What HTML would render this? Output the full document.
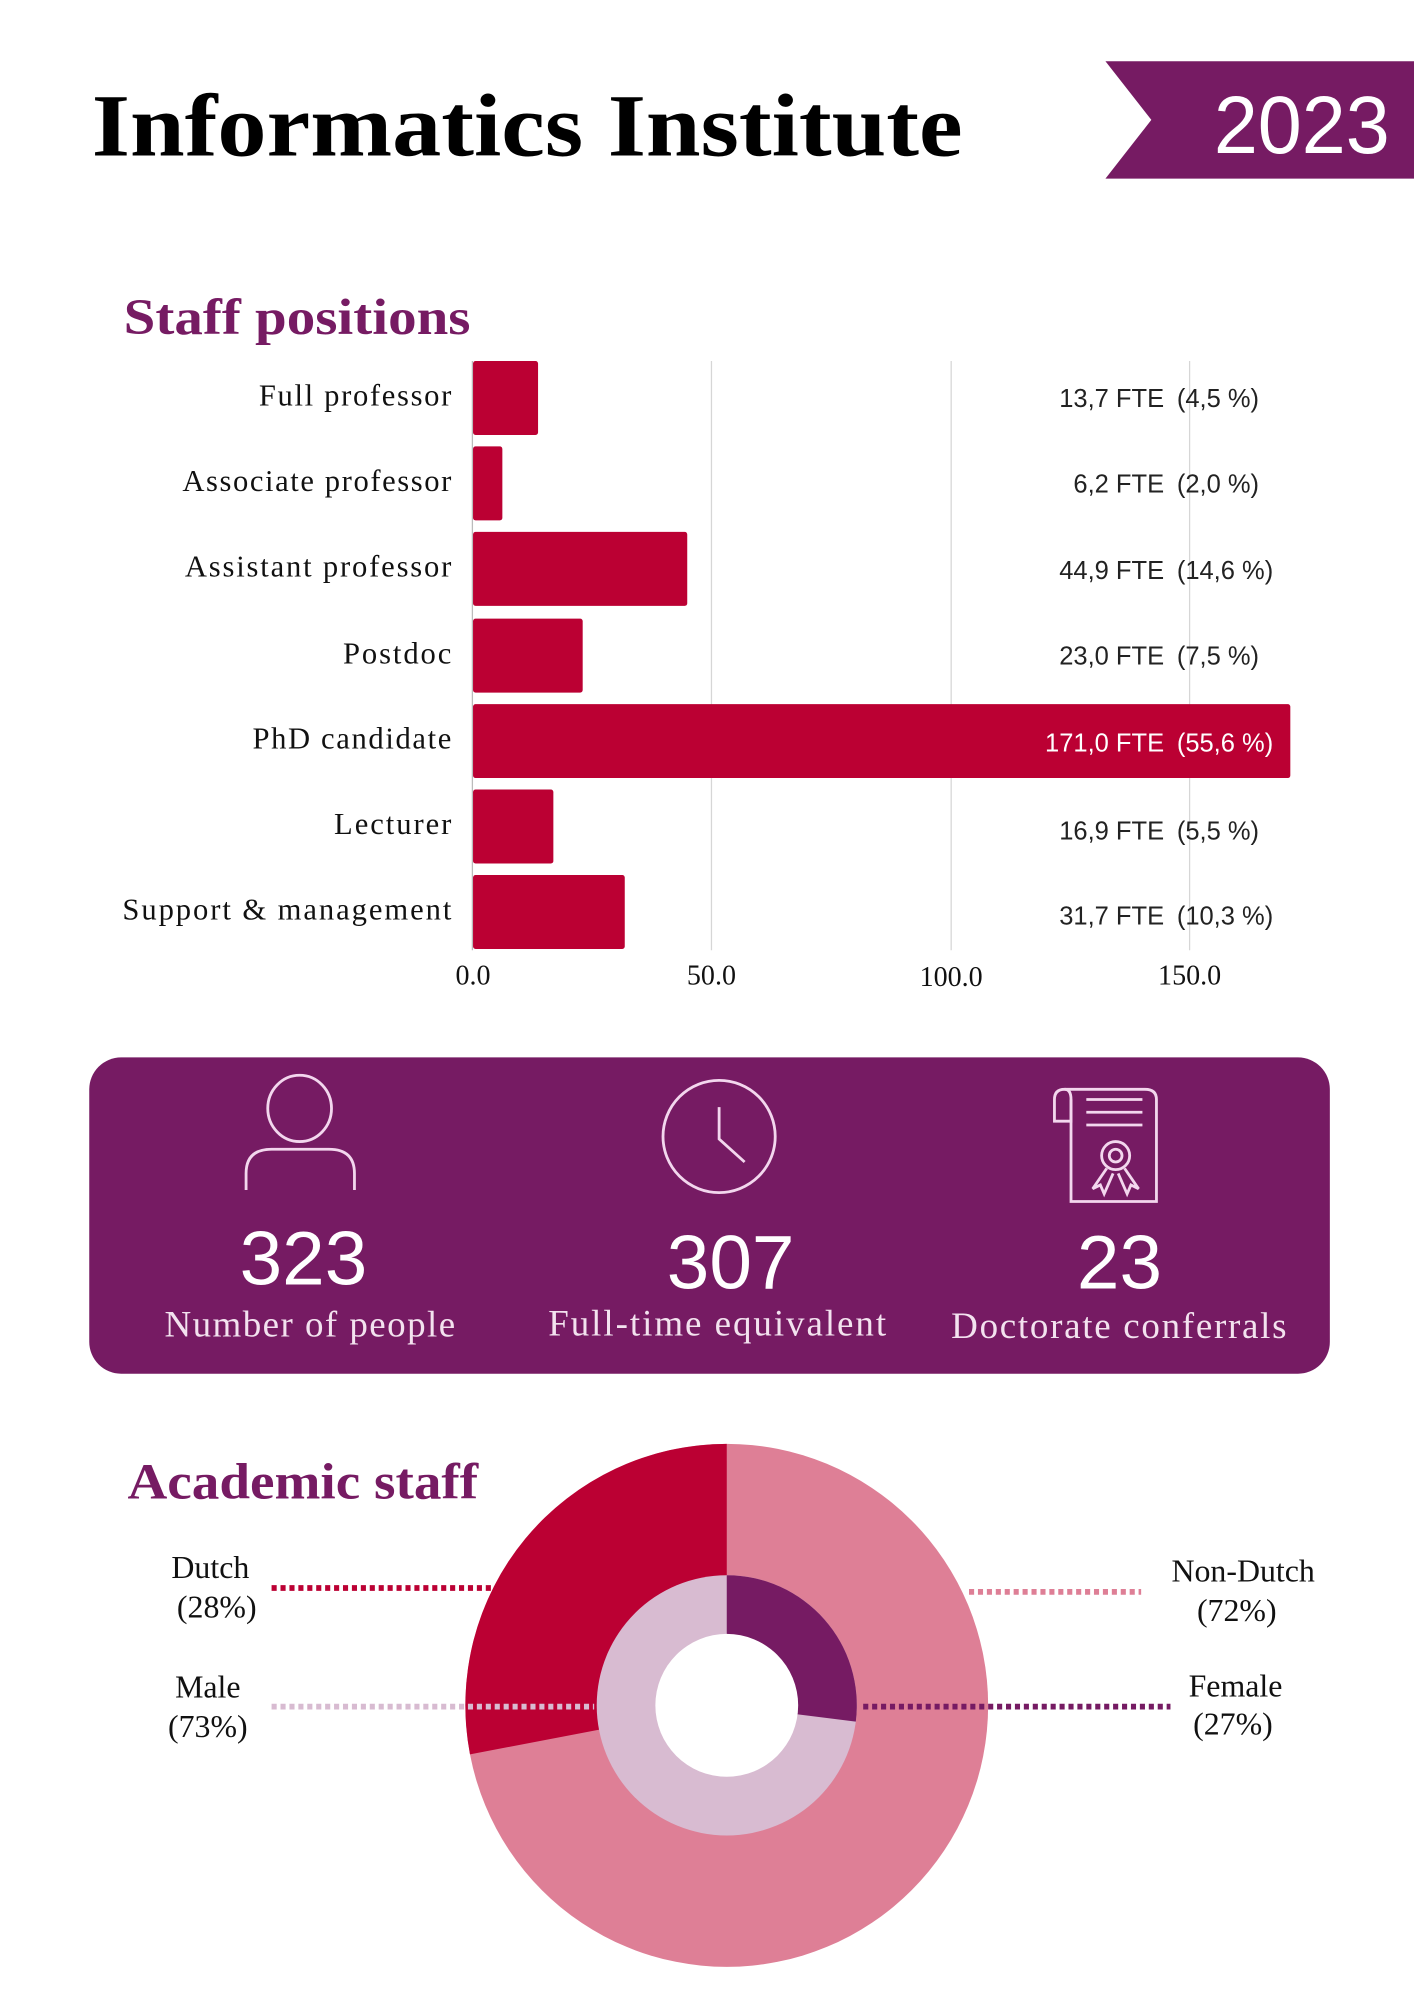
<!DOCTYPE html>
<html><head><meta charset="utf-8"><style>
html,body{margin:0;padding:0;background:#fff;}
svg{display:block;}
.serif{font-family:"Liberation Serif",serif;}
.sans{font-family:"Liberation Sans",sans-serif;}
</style></head><body>
<svg width="1414" height="2000" viewBox="0 0 1109 1568" preserveAspectRatio="none" xmlns="http://www.w3.org/2000/svg">
<rect width="1109" height="1568" fill="#fff"/>
<!-- header -->
<text x="72" y="122" class="serif" font-weight="bold" font-size="70" fill="#000" textLength="683" lengthAdjust="spacingAndGlyphs">Informatics Institute</text>
<polygon points="867,48 1109,48 1109,140 867,140 903,94" fill="#761b63"/>
<text x="952" y="120" class="sans" font-size="64" fill="#fff" textLength="138" lengthAdjust="spacingAndGlyphs">2023</text>

<!-- Staff positions -->
<text x="97" y="262" class="serif" font-weight="bold" font-size="40" fill="#761b63" textLength="272" lengthAdjust="spacingAndGlyphs">Staff positions</text>
<g stroke="#d6d6d6" stroke-width="1">
<line x1="558" y1="283" x2="558" y2="745"/>
<line x1="746" y1="283" x2="746" y2="745"/>
<line x1="933" y1="283" x2="933" y2="745"/>
</g>
<line x1="370.5" y1="283" x2="370.5" y2="745" stroke="#bbb" stroke-width="1"/>
<g fill="#bb0033">
<rect x="371" y="283" width="51" height="58" rx="2"/>
<rect x="371" y="350" width="23" height="58" rx="2"/>
<rect x="371" y="417" width="168" height="58" rx="2"/>
<rect x="371" y="485" width="86" height="58" rx="2"/>
<rect x="371" y="552" width="641" height="58" rx="2"/>
<rect x="371" y="619" width="63" height="58" rx="2"/>
<rect x="371" y="686" width="119" height="58" rx="2"/>
</g>
<g class="serif" font-size="24" fill="#111" lengthAdjust="spacingAndGlyphs">
<text x="203" y="318" textLength="151">Full professor</text>
<text x="143" y="385" textLength="211">Associate professor</text>
<text x="145" y="452" textLength="209">Assistant professor</text>
<text x="269" y="520" textLength="85">Postdoc</text>
<text x="198" y="587" textLength="156">PhD candidate</text>
<text x="262" y="654" textLength="92">Lecturer</text>
<text x="96" y="721" textLength="258">Support &amp; management</text>
</g>
<g class="sans" font-size="20" fill="#222">
<g text-anchor="end">
<text x="913" y="319">13,7 FTE</text>
<text x="913" y="386">6,2 FTE</text>
<text x="913" y="454">44,9 FTE</text>
<text x="913" y="521">23,0 FTE</text>
<text x="913" y="589" fill="#fff">171,0 FTE</text>
<text x="913" y="658">16,9 FTE</text>
<text x="913" y="725">31,7 FTE</text>
</g>
<text x="923" y="319">(4,5 %)</text>
<text x="923" y="386">(2,0 %)</text>
<text x="923" y="454">(14,6 %)</text>
<text x="923" y="521">(7,5 %)</text>
<text x="923" y="589" fill="#fff">(55,6 %)</text>
<text x="923" y="658">(5,5 %)</text>
<text x="923" y="725">(10,3 %)</text>
</g>
<g class="serif" font-size="22" fill="#111" text-anchor="middle">
<text x="371" y="772">0.0</text>
<text x="558" y="772">50.0</text>
<text x="746" y="773">100.0</text>
<text x="933" y="772">150.0</text>
</g>

<!-- stats box -->
<rect x="70" y="829" width="973" height="248" rx="25" fill="#761b63"/>
<g stroke="#f3d7ee" stroke-width="2.2" fill="none">
<ellipse cx="235" cy="869" rx="25" ry="26"/>
<path d="M193,933 L193,920 Q193,901 213,901 L258,901 Q278,901 278,920 L278,933"/>
<circle cx="564" cy="891" r="44"/>
<path d="M564,868 L564,893 L584,911"/>
<path d="M835,854 L898,854 Q907,854 907,862 L907,942 L840,942 L840,862"/>
<path d="M835,854 Q827,854 827,862 L827,879 L840,879 L840,862 Q840,854 835,854"/>
<path d="M852,862 L896,862 M852,872 L896,872 M852,882 L896,882"/>
<circle cx="875" cy="906" r="11"/>
<circle cx="875" cy="906" r="5"/>
<path d="M868,916 L857,932 L863,929 L866,936 L873,920 M882,916 L893,932 L887,929 L884,936 L877,920"/>
</g>
<g class="sans" font-size="60" fill="#fff" text-anchor="middle">
<text x="238" y="1007">323</text>
<text x="573" y="1010">307</text>
<text x="878" y="1010">23</text>
</g>
<g class="serif" font-size="29" fill="#f3e2ef" lengthAdjust="spacingAndGlyphs">
<text x="129" y="1048" textLength="228">Number of people</text>
<text x="430" y="1047" textLength="265">Full-time equivalent</text>
<text x="746" y="1049" textLength="263">Doctorate conferrals</text>
</g>

<!-- Academic staff -->
<text x="100" y="1175" class="serif" font-weight="bold" font-size="40" fill="#761b63" textLength="275" lengthAdjust="spacingAndGlyphs">Academic staff</text>
<circle cx="570" cy="1337" r="205" fill="#de7f96"/>
<path d="M570,1337 L570,1132 A205,205 0 0 0 368.6,1375.4 Z" fill="#bb0033"/>
<circle cx="570" cy="1337" r="102" fill="#d8bbd1"/>
<path d="M570,1337 L570,1235 A102,102 0 0 1 671.2,1349.8 Z" fill="#761b63"/>
<circle cx="570" cy="1337" r="56" fill="#fff"/>
<g stroke-width="4.5" stroke-dasharray="4 3" fill="none">
<line x1="213" y1="1245" x2="385" y2="1245" stroke="#bb0033"/>
<line x1="760" y1="1248" x2="895" y2="1248" stroke="#de7f96"/>
<line x1="213" y1="1338" x2="466" y2="1338" stroke="#d8bbd1"/>
<line x1="677" y1="1338" x2="918" y2="1338" stroke="#761b63"/>
</g>
<g class="serif" font-size="25" fill="#111" text-anchor="middle">
<text x="165" y="1237">Dutch</text>
<text x="170" y="1268">(28%)</text>
<text x="975" y="1240">Non-Dutch</text>
<text x="970" y="1271">(72%)</text>
<text x="163" y="1331">Male</text>
<text x="163" y="1362">(73%)</text>
<text x="969" y="1330">Female</text>
<text x="967" y="1360">(27%)</text>
</g>
</svg>
</body></html>
